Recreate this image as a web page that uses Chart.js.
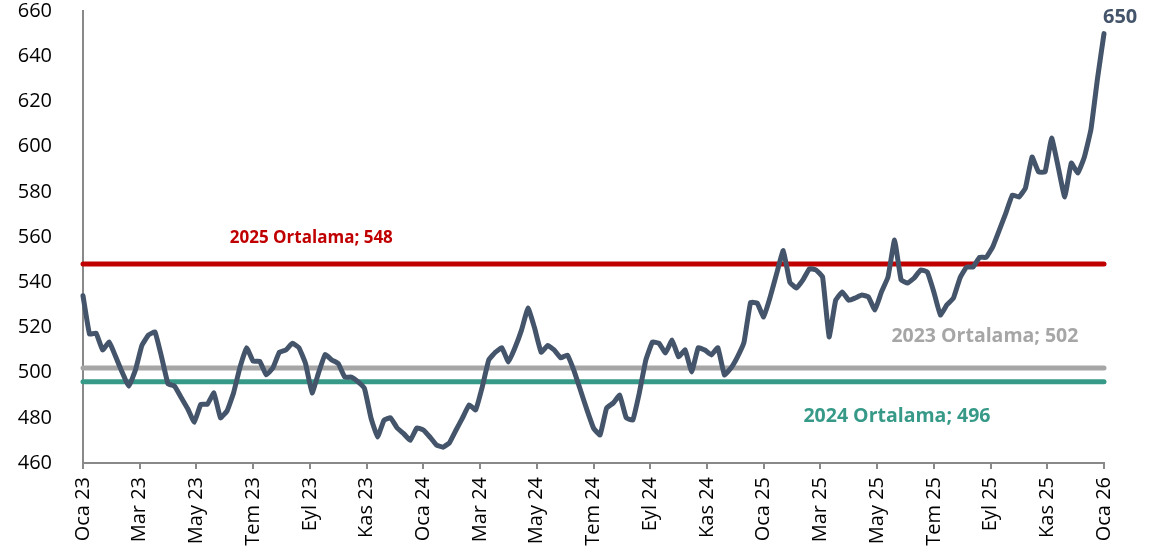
<!DOCTYPE html>
<html>
<head>
<meta charset="utf-8">
<script src="https://cdn.jsdelivr.net/npm/chart.js@4/dist/chart.umd.min.js"></script>
<style>
  html, body { margin: 0; padding: 0; background: #fff; }
  #wrap { width: 1166px; height: 555px; position: relative; }
</style>
</head>
<body>
<div id="wrap"><canvas id="chart"></canvas></div>
<script>
// tick labels on the x axis (every two months)
const monthLabels = ['Oca 23', 'Mar 23', 'May 23', 'Tem 23', 'Eyl 23', 'Kas 23',
    'Oca 24', 'Mar 24', 'May 24', 'Tem 24', 'Eyl 24', 'Kas 24',
    'Oca 25', 'Mar 25', 'May 25', 'Tem 25', 'Eyl 25', 'Kas 25', 'Oca 26'];

// weekly series, Oca 23 -> Oca 26
const weeklyValues = [534, 517, 517.5, 510, 513.5, 507, 500, 494, 501, 512,
    516.6, 518, 507, 495, 494, 489, 484, 478, 486, 486,
    491, 480, 483, 491, 502.5, 511, 505, 505, 499, 502,
    509, 510, 513, 511, 504, 491, 500, 508, 505.6, 504,
    498, 498, 496, 493, 480, 471.5, 479, 480, 475.5, 473,
    470, 475.5, 474.6, 471.5, 468, 467, 469, 474.6, 480, 485.7,
    483.5, 493.6, 505.6, 509, 511, 504.7, 511, 518.8, 528.6, 519.7,
    509, 512, 510, 506.5, 507.8, 501, 492.3, 483.5, 475.5, 472.4,
    484.3, 486.5, 490, 480, 479, 491, 505.6, 513.5, 513, 508.7,
    514.4, 507, 510, 500.3, 511, 510, 507.8, 511, 499, 502,
    507, 513.5, 531, 530.8, 524.6, 533.5, 544, 554, 540, 537.4,
    541, 546, 545.4, 542.3, 515.8, 532, 535.7, 532, 533, 534.3,
    533.5, 527.7, 535.7, 542.3, 558.7, 541, 539.6, 541.9, 545.4, 544.5,
    535.7, 525.5, 530, 533, 541.9, 546.7, 546.7, 551, 551, 555.6,
    563, 570.6, 578.6, 577.7, 581.7, 595.4, 588.8, 588.8, 603.8, 591,
    577.7, 592.7, 588.3, 595.4, 607.5, 630, 650];

// yearly averages
const averageYears = ['2025', '2023', '2024'];
const averageValues = [548, 502, 496];

const monthSpan = (monthLabels.length - 1) * 2;
const lineData = weeklyValues.map((v, i) => ({ x: i * monthSpan / (weeklyValues.length - 1), y: v }));
const flat = v => [{ x: 0, y: v }, { x: monthSpan, y: v }];

const avgColors = ['#C00000', '#A6A6A6', '#379A88'];
// label anchors in axis units (month index, value) and font size
const avgLabelPos = [[8.05, 559.5], [31.8, 515.8], [28.7, 480.8]];
const avgLabelSize = [17, 19.5, 19.5];

const labelPlugin = {
    id: 'labels',
    afterDatasetsDraw(chart) {
        const { ctx, scales } = chart;
        ctx.save();
        ctx.textBaseline = 'middle';
        ctx.textAlign = 'center';
        averageValues.forEach((v, i) => {
            ctx.font = 'bold ' + avgLabelSize[i] + 'px "Open Sans"';
            ctx.fillStyle = avgColors[i];
            ctx.fillText(averageYears[i] + ' Ortalama; ' + v,
                scales.x.getPixelForValue(avgLabelPos[i][0]),
                scales.y.getPixelForValue(avgLabelPos[i][1]));
        });
        // last value
        const last = lineData[lineData.length - 1];
        ctx.fillStyle = '#44546A';
        ctx.font = 'bold 20px "Open Sans"';
        ctx.textAlign = 'left';
        ctx.fillText(String(last.y), scales.x.getPixelForValue(last.x) - 1, scales.y.getPixelForValue(last.y) - 16);
        ctx.restore();
    }
};

const ctx = document.getElementById('chart').getContext('2d');
new Chart(ctx, {
    type: 'line',
    data: {
        datasets: [
            {
                data: lineData,
                borderColor: '#44546A',
                borderWidth: 5,
                pointRadius: 0,
                tension: 0.1,
                borderJoinStyle: 'round',
                borderCapStyle: 'round',
                clip: false
            },
            ...averageValues.map((v, i) => ({
                data: flat(v),
                borderColor: avgColors[i],
                borderWidth: 5,
                pointRadius: 0,
                borderCapStyle: 'round',
                clip: false
            }))
        ]
    },
    options: {
        responsive: true,
        maintainAspectRatio: false,
        animation: false,
        layout: { padding: { top: 11, right: 62, left: 0, bottom: 0 } },
        plugins: {
            legend: { display: false },
            tooltip: { enabled: false }
        },
        scales: {
            x: {
                type: 'linear',
                min: 0,
                max: monthSpan,
                afterFit: s => { s.height = 92; s.paddingLeft = 0; s.paddingRight = 0; },
                border: { color: '#898989', width: 2 },
                grid: { drawOnChartArea: false, drawTicks: true, tickLength: 6, color: '#898989', lineWidth: 2 },
                ticks: {
                    stepSize: 2,
                    autoSkip: false,
                    maxRotation: 90,
                    minRotation: 90,
                    padding: 8,
                    color: '#000',
                    font: { family: 'Open Sans', size: 20 },
                    callback: v => monthLabels[v / 2]
                }
            },
            y: {
                min: 460,
                max: 660,
                afterFit: s => { s.width = 83; s.paddingTop = 0; s.paddingBottom = 0; },
                border: { color: '#898989', width: 2 },
                grid: { display: false },
                ticks: {
                    stepSize: 20,
                    padding: 23,
                    color: '#000',
                    font: { family: 'Open Sans', size: 20 }
                }
            }
        }
    },
    plugins: [labelPlugin]
});
</script>
</body>
</html>
